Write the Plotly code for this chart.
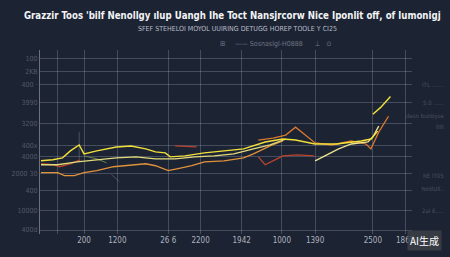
import plotly.graph_objects as go

# ---- data ----
x_ticks = [50, 77, 111, 163, 196, 238, 279, 313, 372, 405]
x_tick_labels = ["", "200", "1200", "26 6", "2200", "1942", "1000", "1390", "2500", "1865"]
y_ticks = [186, 173, 160, 142, 121, 98, 87, 70, 53, 33, 13]
y_tick_labels = ["100", "2KB", "400 ·", "3990", "3200", "400x", "4000", "2000 30", "400", "10000", "400d"]

yellow_x = [33, 45, 55, 63, 72, 77, 90, 110, 125, 140, 150, 160, 165, 180, 200, 220, 240, 262, 280, 293, 305, 313, 335, 360, 370, 377, None, 372, 380, 390]
yellow_y = [83, 84, 86, 93, 99, 90, 93, 97, 98, 95, 92, 91, 87, 88, 91, 93, 95, 102, 105, 104, 102, 100, 100, 103, 105, 113, None, 130, 137, 148]

pale_x = [33, 50, 70, 90, 110, 130, 150, 170, 190, 210, 230, 250, 267, 283]
pale_y = [79, 79, 82, 84, 86, 87, 85, 85, 87, 88, 90, 95, 99, 105]

lorange_x = [33, 50, 57, 67, 77, 90, 107, 120, 140, 150, 163, 173, 187, 200, 220, 240, 250, 267, 280]
lorange_y = [71, 71, 68, 68, 71, 73, 77, 78, 80, 78, 73, 75, 78, 82, 83, 86, 90, 98, 103]

red_x = [33, 45, 52, 63, 73, None, 170, 192, None, 255, 262, 272, 280, 295, 312]
red_y = [80, 79, 77, 80, 84, None, 98, 97, None, 87, 79, 84, 88, 89, 88]

peak_x = [255, 270, 283, 293, 303, 313, 330, 350, 365, 370, 378, 388]
peak_y = [104, 106, 109, 117, 109, 101, 99, 103, 100, 95, 112, 128]

pale2_x = [313, 323, 337, 350, 367, 372, 378]
pale2_y = [83, 88, 95, 100, 102, 107, 118]

green_x = [77, 90, 100]
green_y = [88, 85, 81]

gray_x = [105, 113, None, 72, 72]
gray_y = [69, 62, None, 112, 85]

BG = "#1c2333"
NARROW = "DejaVu Sans Condensed, Liberation Sans Narrow, sans-serif"

fig = go.Figure()

def add(x, y, color, w=1.3, op=1.0):
    fig.add_trace(go.Scatter(x=x, y=y, mode="lines", line=dict(color=color, width=w),
                             opacity=op, connectgaps=False, hoverinfo="skip", showlegend=False))

add(gray_x, gray_y, "#7a808c", 1.0, 0.5)
add(green_x, green_y, "#7e9a50", 1.0, 0.8)
add(lorange_x, lorange_y, "#e0923a", 1.3)
add(red_x, red_y, "#b8442c", 1.3)
add(peak_x, peak_y, "#d9782e", 1.3)
add(pale_x, pale_y, "#e2da7a", 1.3)
add(pale2_x, pale2_y, "#efe58e", 1.3)
add(yellow_x, yellow_y, "#f2e03a", 1.4)

grid = "rgba(190,200,220,0.25)"
fig.update_layout(
    width=450, height=257,
    margin=dict(l=32, r=38, t=50, b=21),
    paper_bgcolor=BG, plot_bgcolor=BG,
    xaxis=dict(range=[32, 412], tickvals=x_ticks, ticktext=x_tick_labels,
               showgrid=True, gridcolor=grid, gridwidth=1, zeroline=False,
               tickfont=dict(family=NARROW, size=8, color="#aeb3bd"),
               ticks="", showline=False),
    yaxis=dict(range=[9, 195], tickvals=y_ticks, ticktext=y_tick_labels,
               showgrid=True, gridcolor=grid, gridwidth=1, zeroline=False,
               tickfont=dict(family=NARROW, size=7, color="#525a69"),
               ticks="", showline=True, linecolor="rgba(200,210,230,0.45)", linewidth=1),
    font=dict(family=NARROW),
)

ann = []
ann.append(dict(text="<b>Grazzir Toos 'bilf Nenollgy ılup Uangh Ihe Toct Nansjrcorw Nice Iponlit off, of lumonigj</b>",
                x=229, y=15, xanchor="center", font=dict(family=NARROW, size=9.6, color="#f2f3f5")))
ann.append(dict(text="SFEF STEHELOI MOYOL UUIRING DETUGG HOREP TOOLE Y CI25",
                x=234, y=29, xanchor="center", font=dict(family=NARROW, size=7, color="#b9bec8")))
ann.append(dict(text="⊞     —— Sosnaslgl-H0888      ⊥   ⊙",
                x=273, y=44, xanchor="center", font=dict(family=NARROW, size=7, color="#6f7683")))
faint = [("ITL .......", 85), ("5.0 ......", 103), ("desn bunbyse", 117), ("IIIII", 127),
         ("RE IT05", 177), ("YoldlUII..", 190), ("2al 6.....", 212)]
for t, py in faint:
    ann.append(dict(text=t, x=447, y=py, xanchor="right",
                    font=dict(family=NARROW, size=6, color="#4a5261")))
ann.append(dict(text="AI生成", x=425, y=243, xanchor="center",
                font=dict(family="Noto Sans CJK SC", size=10, color="#ffffff"),
                bgcolor="rgba(60,64,72,0.85)", borderpad=2))

# convert pixel-based annotation positions to paper coords
for a in ann:
    a["x"] = (a["x"] - 32) / 380
    a["y"] = (257 - 21 - a["y"]) / (257 - 50 - 21)
    a.update(xref="paper", yref="paper", showarrow=False, yanchor="middle")
fig.update_layout(annotations=ann)

fig.write_html("out.html")
